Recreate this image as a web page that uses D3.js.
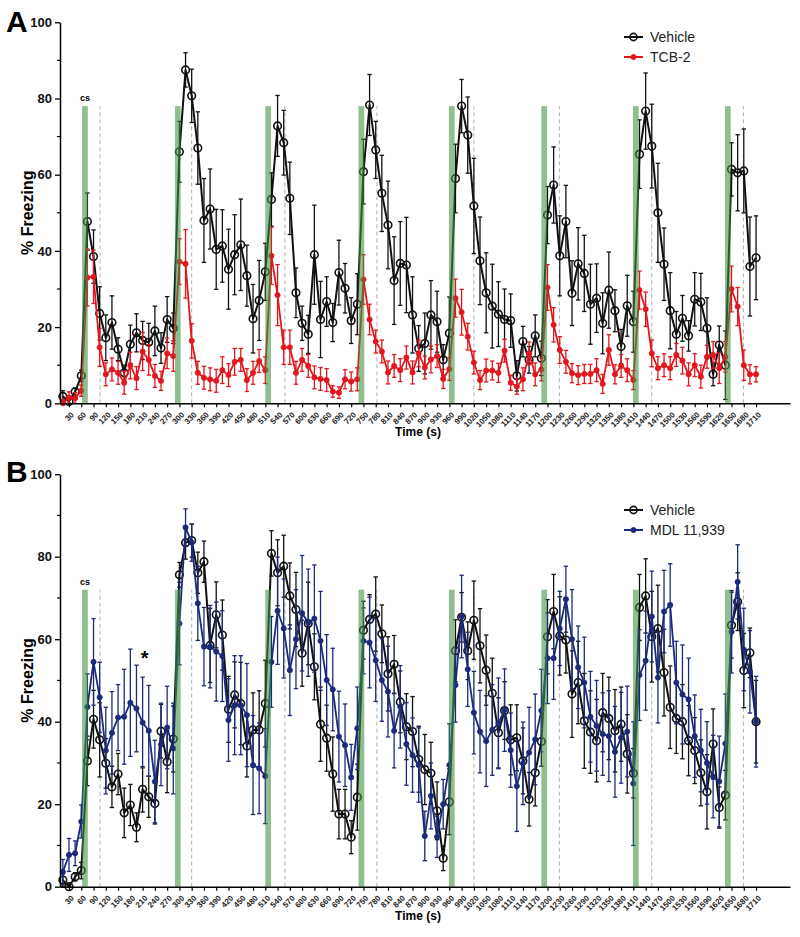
<!DOCTYPE html>
<html>
<head>
<meta charset="utf-8">
<script src="https://cdn.jsdelivr.net/npm/d3@7"></script>
<style>
  body { margin: 0; background: #fff; }
  svg { font-family: "Liberation Sans", Arial, sans-serif; }
</style>
</head>
<body>
<svg width="800" height="937"></svg>
<script>
// time bins (s), one point every 15 s
var times = d3.range(15, 1711, 15);
var tickTimes = d3.range(30, 1711, 30);

// CS tone onsets (s) and the dashed marks after each tone (s)
var csOnsets = [62, 289, 510, 738, 959, 1185, 1409, 1634];
var csLength = 14;
var dashMarks = [106, 330, 558, 783, 1020, 1229, 1455, 1679];

// panel A
var vehA = [1.8,0.5,3,7.2,47.7,38.5,23.6,17.2,21.2,14.2,8,15.5,18.5,16.5,16,19,14.5,22,19.7,66,
  87.5,80.7,67,48,51,40.4,41.3,35.2,39,41.6,33.5,22.2,27,34.5,53.5,72.8,68.4,53.8,29,21,
  18.1,39,22,26.7,21.2,34.3,30.2,21.7,26,60.8,78.3,66.5,55.1,46.8,32.2,36.7,36.3,23.2,14.4,15.7,
  23.2,21.4,11.4,18.4,59,78,70.4,51.8,37.4,29,25.5,23.4,22,21.7,7.2,16.2,11.4,17.7,11.8,49.4,
  57.3,38.7,47.7,28.9,36.6,34.1,26,27.6,21,29.7,24.3,14.9,25.6,21.4,65.4,76.7,67.5,50,36.5,24.3,
  18.1,22.3,17.7,27.3,26.6,19.7,7.6,15.3,10,61.4,60.5,61,35.9,38.2];
var vehAErr = [1.5,1,1,1.5,7.5,7,7,6,7,3,2,5,5,5,5,6.5,4,6,4,8,
  4.5,7,9.5,11,10.5,10.5,9.5,10.5,10.5,12,8,9,10.5,7.5,7,8,8.5,9.5,6.5,4.5,
  5,13,10,6.5,5,8.5,6.5,6,8,8.5,8,7.5,10,11.5,11.5,11,12.5,10,6,8,
  9,8,4,9.5,9,7,10,12.5,11.5,10.5,11,8.5,8,7,4,4,3.5,5.5,4.5,7.5,
  10,10.5,9.5,8.5,9.5,10,10.5,9,8,10,5.5,4.5,8,8,9,10,11,13,9.5,10,
  6,6,4,7,7.5,8,3,5,9,7,10,11,13,11];
var tcb = [0,1.5,1.3,3.3,33,33.2,14.7,7.6,8.9,8,5.4,9.9,6.6,13.6,11.4,7.2,5.9,13.1,12.4,37.2,
  36.6,16.4,8,6.7,6.3,5.9,8.7,7.4,10.9,11.4,6.1,8,11.1,8.7,38.7,28.4,14.7,14.7,8,11.4,
  9.8,6.8,6.4,6.1,3.1,2.8,6.3,5.7,6.3,32.5,22,16.2,13.6,8.1,9.8,8.7,12,8.1,13.1,9.4,
  11.5,12.4,6.4,9,27.6,23.9,17.5,10.7,6.1,8.6,8.6,8,13.8,5.4,4.4,6.3,13.1,7.6,8.9,30.4,
  20.6,14,10.9,7.9,7.4,7.7,7.7,8.7,5.1,14,7.6,9.8,8.7,6.1,29.7,24.7,13.1,9.2,10,9.2,
  12.7,11.2,7.6,10,7,12.2,12.7,9.2,12.2,30,25.4,10,7.6,7.6];
var tcbErr = [1,1.5,1.5,1.5,7.5,7,5,3,3,3,3,3.5,3,5,4,3,2.5,4,4,6,
  9,4.5,3,3,3,3,3.5,3,3.5,3,3,3,3,3.5,7.5,8,4.5,4.5,3,3,
  3,3,3,3,1.5,1.5,2.5,2.5,3,6.5,4,3,3,3,3,3,3,3,3.5,3,
  3.5,3,2.5,3,5,6,3.5,3,2.5,3,2.5,2.5,3,2,2,3,3,3,3,6,
  4.5,3.5,3,2.5,2.5,2.5,2.5,3,2.5,4,2.5,3,3,2.5,5,4.5,3.5,3,3,3,
  3,3.5,3,3,3,3,3.5,4,4,6,5,4,2.5,2];

// panel B
var vehB = [1.6,0,2.4,3.9,30.5,40.6,35.6,29.9,24.2,27.3,17.9,19.8,14.4,23.6,21.8,20.2,37.7,30.3,35.8,75.6,
  83.4,83.9,76.1,78.8,58.5,65.9,61,43,46.5,44.4,34.1,38,38,44.4,80.8,76.1,77.7,70.5,67.2,56.6,
  63.8,53.3,39.4,36,27.3,17.6,17.6,12,21.7,62.2,64.8,66.1,61.3,51.6,53.9,44.8,38.8,37.6,30.9,28.4,
  27.5,18.4,6.9,20.6,57.2,65.3,57.2,64.6,58.4,52.5,46.9,37.3,42.7,35.6,36.1,30.5,21.2,27.6,35.2,60.6,
  66.7,60.8,59.8,46.7,49.5,40.2,37.5,35.4,42.2,40.8,37.8,39.4,32.2,27.5,67.7,70.5,60.6,62.6,51.9,43.5,
  40.8,40,35.4,33,27.6,23,34.6,19.2,22.2,63.4,69.1,52.4,56.7,40];
var vehBErr = [1.5,0.5,1,2,6,7,9,6,5,5,6,5,3.5,5.5,5,5,6.5,7.5,8,3,
  4,4,5,5,9,8,8.5,8,8,10,7.5,9,9.5,10.5,5.5,8,7.5,8,9,8,
  10,8,9,8,9,6,6,4,8,7,6,9,7,9,7,7.5,8,8.5,8,8.5,
  7.5,7,3,8,7.5,6,7,9.5,9,8.5,8.5,8.5,7,8.5,8,8,6.5,8,6,9,
  9,9.5,8,10.5,10,11.5,10,10,9.5,10,10,9,9.5,6,8,9,11,10.5,10.5,10,
  8.5,9,8.5,8,8,9,8.5,5,6,8,7,9,6,10];
var mdl = [3.6,7.7,8.1,15.8,43.6,54.5,45.9,33,37.3,41,41.2,44.6,43.2,39.8,37.8,25.5,34.5,38.6,33.5,63.8,
  87.1,83.4,68.7,58.2,58.2,57,55.9,40.4,44,44,41.6,29.5,28.7,26.8,54.5,66.9,62.6,52.5,60,66.3,
  64,65,59.6,50.1,47.8,36.4,34.3,26.5,38.4,59.6,59.2,54.9,50.1,47.3,37.8,43.6,34.6,31.9,29.5,12.3,
  22,12.1,20,29.5,48.9,65.5,52.7,42.2,37.6,35.3,38,39.6,42.8,33.1,24.4,29.9,32.5,35.7,42.7,55.4,
  55.4,62.6,69.7,60,53.2,49.5,41.2,39,37,36.5,32.7,36.1,37.6,25,51.3,54.8,65.5,50.7,66.7,68.3,
  49.5,46.6,45.4,36.5,33,30,26.7,25.5,34.7,61.8,73.9,57.5,52.1,40];
var mdlErr = [3,4,3,4,8,10.5,8.5,10.5,10,8,11.5,13,10.5,11,11,10,10,10,11,10,
  4.5,4.5,9,9.5,10,12,11,10,12,12,12.5,12,11,11.5,11,13,12,11,12,14,
  13,13,12,11,10,11,10,8,10,8,11,10,10,11,9,10,10,9,9,6,
  8,5,6,10,9,10,9,10,10,11,11,11,10,9,11,10,11,11,10,11,
  10,9,8,12,10,11,11,11,10,11,11,11,11,15,11,12,11,11,10,10,
  10,12,10,10,10,10,10,11,12,10,9,10,10,11];

var yTicks = [0, 20, 40, 60, 80, 100];
var yMinor = [10, 30, 50, 70, 90];

var svg = d3.select("svg");

var x = d3.scaleLinear().domain([8, 1793]).range([60, 790]);

var panels = [
  { letter: "A", top: 22.3, bottom: 403.3, csTop: 78, letterY: 32,
    series: [
      { name: "Vehicle", values: vehA, errs: vehAErr, color: "#111", open: true },
      { name: "TCB-2", values: tcb, errs: tcbErr, color: "#e3161d", open: false }
    ],
    legendY: 37, csLabelY: 101 },
  { letter: "B", top: 474.2, bottom: 886.7, csTop: 72, letterY: 482,
    series: [
      { name: "Vehicle", values: vehB, errs: vehBErr, color: "#111", open: true },
      { name: "MDL 11,939", values: mdl, errs: mdlErr, color: "#1c2a7a", open: false }
    ],
    legendY: 510, csLabelY: 585, star: { t: 215, v: 56 } }
];

panels.forEach(function(p) {
  var y = d3.scaleLinear().domain([0, 100]).range([p.bottom, p.top]);
  var g = svg.append("g");

  // dashed marks
  g.selectAll(".dash").data(dashMarks).enter().append("line")
    .attr("x1", d => x(d)).attr("x2", d => x(d))
    .attr("y1", y(0)).attr("y2", y(p.csTop))
    .attr("stroke", "#b0b0b0").attr("stroke-width", 1)
    .attr("stroke-dasharray", "4,3");

  p.series.forEach(function(s) {
    var pts = times.map((t, i) => ({ t: t, v: s.values[i], e: s.errs[i] }));
    var eg = g.append("g").attr("stroke", s.color).attr("stroke-width", 1.3);
    eg.selectAll("line.bar").data(pts).enter().append("line")
      .attr("x1", d => x(d.t)).attr("x2", d => x(d.t))
      .attr("y1", d => y(Math.max(0, d.v - d.e))).attr("y2", d => y(d.v + d.e));
    eg.selectAll("line.capTop").data(pts).enter().append("line")
      .attr("x1", d => x(d.t) - 2.2).attr("x2", d => x(d.t) + 2.2)
      .attr("y1", d => y(d.v + d.e)).attr("y2", d => y(d.v + d.e));
    eg.selectAll("line.capBot").data(pts).enter().append("line")
      .attr("x1", d => x(d.t) - 2.2).attr("x2", d => x(d.t) + 2.2)
      .attr("y1", d => y(Math.max(0, d.v - d.e))).attr("y2", d => y(Math.max(0, d.v - d.e)));

    var line = d3.line().x(d => x(d.t)).y(d => y(d.v));
    g.append("path").datum(pts)
      .attr("fill", "none").attr("stroke", s.color)
      .attr("stroke-width", s.open ? 2 : 1.8)
      .attr("stroke-linejoin", "round")
      .attr("d", line);

    g.selectAll(null).data(pts).enter().append("circle")
      .attr("cx", d => x(d.t)).attr("cy", d => y(d.v))
      .attr("r", s.open ? 3.8 : 2.6)
      .attr("fill", s.open ? "none" : s.color)
      .attr("stroke", s.color)
      .attr("stroke-width", s.open ? 1.6 : 0.8);
  });

  // CS bars, semi-transparent on top of the lines
  g.selectAll(".cs").data(csOnsets).enter().append("rect")
    .attr("x", d => x(d)).attr("width", d => x(d + csLength) - x(d))
    .attr("y", y(p.csTop)).attr("height", y(0) - y(p.csTop))
    .attr("fill", "#3f8f3f").attr("opacity", 0.58);

  g.append("text").attr("x", x(csOnsets[0]) + 3).attr("y", p.csLabelY)
    .attr("text-anchor", "middle").attr("font-size", 9).attr("font-weight", "bold")
    .text("cs");

  if (p.star) {
    g.append("text").attr("x", x(p.star.t)).attr("y", y(p.star.v) + 9)
      .attr("text-anchor", "middle").attr("font-size", 20).attr("font-weight", "bold")
      .text("*");
  }

  // y axis
  var yAxis = g.append("g").attr("transform", "translate(60,0)")
    .call(d3.axisLeft(y).tickValues(yTicks).tickSize(5).tickSizeOuter(0).tickPadding(3));
  yAxis.selectAll(".tick text").attr("font-size", 13).attr("font-weight", "bold")
    .attr("font-family", "Liberation Sans, Arial, sans-serif").attr("fill", "#111");
  yAxis.select(".domain").attr("stroke-width", 1.5);
  yAxis.selectAll(".tick line").attr("stroke-width", 1.3);
  g.selectAll(".minorY").data(yMinor).enter().append("line")
    .attr("x1", 57).attr("x2", 60).attr("y1", d => y(d)).attr("y2", d => y(d))
    .attr("stroke", "#000").attr("stroke-width", 1.2);

  // x axis
  var xAxis = g.append("g").attr("transform", "translate(0," + y(0) + ")")
    .call(d3.axisBottom(x).tickValues(tickTimes).tickFormat(d3.format("d"))
      .tickSize(4).tickSizeOuter(0));
  xAxis.select(".domain").attr("stroke-width", 1.5);
  xAxis.selectAll(".tick line").attr("stroke-width", 1.2);
  xAxis.selectAll(".tick text")
    .attr("font-size", 8).attr("font-weight", "bold").attr("fill", "#222")
    .attr("font-family", "Liberation Sans, Arial, sans-serif")
    .attr("text-anchor", "end")
    .attr("x", 0).attr("y", 0).attr("dy", "0.35em")
    .attr("transform", "translate(3,10) rotate(-45)");

  // axis titles
  g.append("text").attr("x", 418).attr("y", y(0) + 33)
    .attr("text-anchor", "middle").attr("font-size", 12).attr("font-weight", "bold")
    .text("Time (s)");
  g.append("text")
    .attr("transform", "translate(33," + ((p.top + p.bottom) / 2) + ") rotate(-90)")
    .attr("text-anchor", "middle").attr("font-size", 16).attr("font-weight", "bold")
    .text("% Freezing");

  g.append("text").attr("x", 6).attr("y", p.letterY)
    .attr("font-size", 30).attr("font-weight", "bold").text(p.letter);

  // legend
  p.series.forEach(function(s, i) {
    var ly = p.legendY + i * 20;
    g.append("line").attr("x1", 624).attr("x2", 643).attr("y1", ly).attr("y2", ly)
      .attr("stroke", s.color).attr("stroke-width", 2);
    g.append("circle").attr("cx", 633.5).attr("cy", ly).attr("r", s.open ? 3.6 : 2.6)
      .attr("fill", s.open ? "none" : s.color).attr("stroke", s.color)
      .attr("stroke-width", s.open ? 1.6 : 0.8);
    g.append("text").attr("x", 650).attr("y", ly + 5)
      .attr("font-size", 14).attr("fill", "#222").text(s.name);
  });
});
</script>
</body>
</html>
